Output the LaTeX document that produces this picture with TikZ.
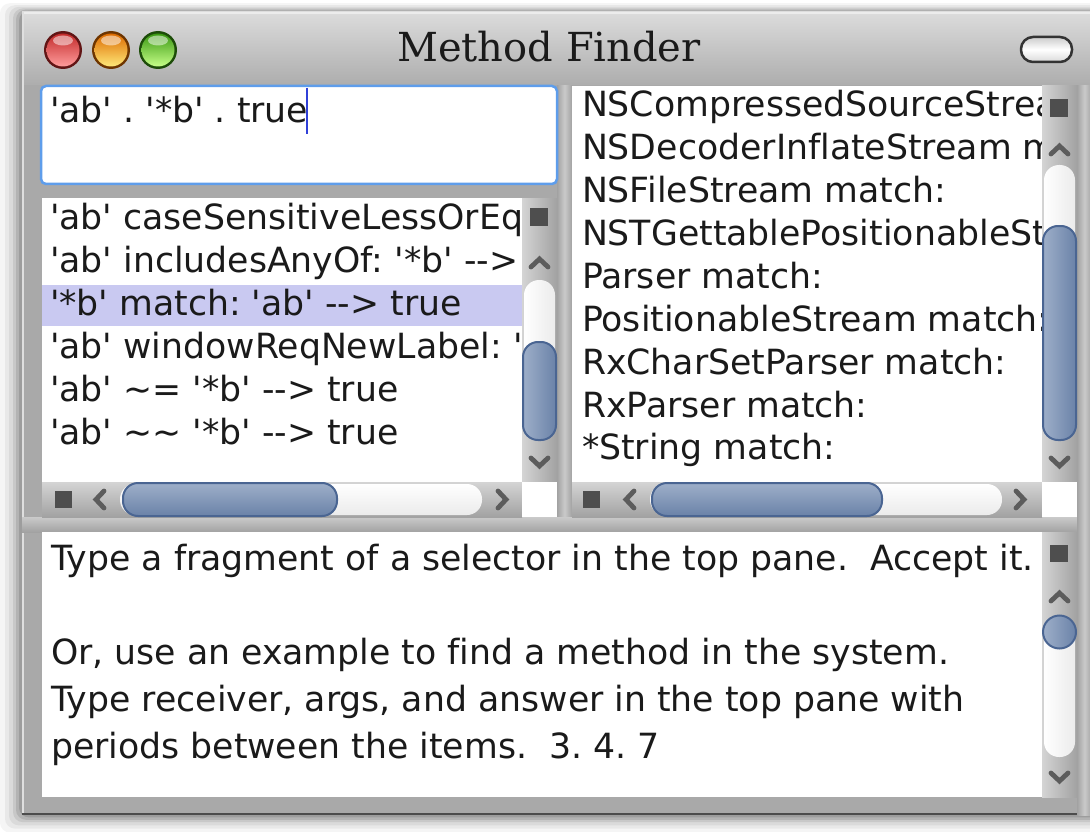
\documentclass[tikz,border=0pt]{standalone}
\usepackage{fontspec}
\setmainfont{DejaVu Sans}[Ligatures={TeXOff,CommonOff}]
\newfontfamily\titlefont{DejaVu Serif}[Ligatures={TeXOff,CommonOff}]
\definecolor{textc}{HTML}{1A1A1A}
\definecolor{framec}{HTML}{A9A9A9}
\definecolor{titleA}{HTML}{DCDCDC}
\definecolor{titleB}{HTML}{ADADAD}
\definecolor{sepA}{HTML}{CACACA}
\definecolor{sepB}{HTML}{A2A2A2}
\definecolor{arrowc}{HTML}{5C5C5C}
\definecolor{sqc}{HTML}{4E4E4E}
\definecolor{thumbA}{HTML}{9EAFC9}
\definecolor{thumbB}{HTML}{6A82A8}
\definecolor{thumbE}{HTML}{4A6592}
\definecolor{inputc}{HTML}{5E9DEB}
\definecolor{cursorc}{HTML}{3040D8}
\definecolor{hilite}{HTML}{C9C9F1}
\definecolor{sbA}{HTML}{D4D4D4}
\definecolor{sbB}{HTML}{A2A2A2}
\definecolor{trackc}{HTML}{EBEBEB}
\definecolor{redA}{HTML}{C22A2A}
\definecolor{redB}{HTML}{FF9C9C}
\definecolor{oraA}{HTML}{DC6A00}
\definecolor{oraB}{HTML}{FFE878}
\definecolor{grnA}{HTML}{3A9812}
\definecolor{grnB}{HTML}{C6FF88}
\definecolor{pillc}{HTML}{333333}
\begin{document}
\frenchspacing
\begin{tikzpicture}[x=1pt,y=-1pt,
  txt/.style={anchor=base west,inner sep=0pt,outer sep=0pt,text=textc,font=\fontsize{34.7}{40}\selectfont},
  chev/.style={draw=arrowc,line width=4.8pt,line cap=round,line join=miter},
  sqbox/.style={fill=sqc},
  vbar/.style={left color=sbA,right color=sbB},
  hbar/.style={top color=sbA,bottom color=sbB},
  vtrack/.style={left color=white,right color=trackc,rounded corners=15pt},
  htrack/.style={top color=white,bottom color=trackc,rounded corners=15pt},
  vthumb/.style={left color=thumbA,right color=thumbB,draw=thumbE,line width=2pt,rounded corners=15pt},
  hthumb/.style={top color=thumbA,bottom color=thumbB,draw=thumbE,line width=2pt,rounded corners=15pt},
  pane/.style={fill=white},
]
\useasboundingbox (0,0) rectangle (1090,832);
\fill[white] (0,0) rectangle (1090,832);
% shadow
\foreach \d/\o in {22/0.04,17/0.05,13/0.06,9/0.08,6/0.1,3/0.12}{
  \fill[black,opacity=\o,rounded corners=10pt] (22-\d,12-0.4*\d) rectangle (1120,815+0.8*\d);
}
% window frame
\fill[framec] (22,12) rectangle (1100,815);
\shade[top color=titleA,bottom color=titleB] (22,12) rectangle (1100,85);
\draw[white!85!gray,line width=1.5pt] (22,13) -- (1100,13);
\draw[white!75!gray,line width=1.5pt] (23,12) -- (23,815);
\draw[gray!140,line width=1.5pt] (22,814) -- (1100,814);
% separators
\shade[left color=sepB,right color=sepB,middle color=sepA] (557,86) rectangle (572,517);
\shade[top color=sepA,bottom color=sepB] (22,517) rectangle (1100,532);
\shade[left color=sepB,right color=sepB,middle color=sepA] (1077,86) rectangle (1092,815);

% traffic lights
\foreach \cx/\ca/\cb in {63/redA/redB,111/oraA/oraB,158/grnA/grnB}{
  \fill[\ca!50!black] (\cx,50) circle (19pt);
  \shade[top color=\ca,bottom color=\cb] (\cx,50) circle (16.5pt);
  \fill[white,opacity=0.5] (\cx,40.5) ellipse (10pt and 5pt);
}
% title
\node[font=\titlefont\fontsize{40}{40}\selectfont,text=textc,anchor=base,inner sep=0pt] (title) at (549,62) {Method Finder};
% collapse pill
\path[draw=pillc,line width=2.5pt,rounded corners=12pt,top color=gray!40,bottom color=gray!30,middle color=white] (1021,37) rectangle (1072,62);

% input pane
\draw[inputc,line width=2.5pt,fill=white,rounded corners=5pt] (41,86) rectangle (557,184);
\node[txt] (inp) at (50,123) {'ab' . '*b' . true};
\draw[cursorc,line width=2pt] (307,88) -- (307,134);

% left list pane
\fill[pane] (42,198) rectangle (522,482);
\begin{scope}
\clip (42,198) rectangle (522,482);
\fill[hilite] (42,285) rectangle (522,326);
\node[txt] (a1) at (50,229) {'ab' caseSensitiveLessOrEq};
\node[txt] (a2) at (50,272) {'ab' includesAnyOf: '*b' -->};
\node[txt] (a3) at (50,315) {'*b' match: 'ab' --> true};
\node[txt] (a4) at (50,358) {'ab' windowReqNewLabel: '};
\node[txt] (a5) at (50,401) {'ab' \textasciitilde= '*b' --> true};
\node[txt] (a6) at (50,444) {'ab' \textasciitilde\textasciitilde\ '*b' --> true};
\end{scope}
% left vertical scrollbar
\path[vbar] (522,198) rectangle (557,482);
\fill[sqbox] (530,208) rectangle (548,226);
\draw[chev] (531,267) -- (539.5,259) -- (548,267);
\path[vtrack] (524,280) rectangle (555,440);
\path[vthumb] (523,342) rectangle (556,440);
\draw[chev] (531,458) -- (539.5,466) -- (548,458);
% left horizontal scrollbar
\path[hbar] (42,482) rectangle (522,517);
\fill[sqbox] (55,491) rectangle (72,508);
\draw[chev] (104,491) -- (96,499.5) -- (104,508);
\path[htrack] (120,484) rectangle (482,515);
\path[hthumb] (123,483) rectangle (337,516);
\draw[chev] (498,491) -- (506,499.5) -- (498,508);
\fill[white] (522,482) rectangle (557,517);

% right list pane
\fill[pane] (572,86) rectangle (1042,482);
\begin{scope}
\clip (572,86) rectangle (1042,482);
\node[txt] (b1) at (582,117) {NSCompressedSourceStrea};
\node[txt] (b2) at (582,160) {NSDecoderInflateStream m};
\node[txt] (b3) at (582,203) {NSFileStream match:};
\node[txt] (b4) at (582,245) {NSTGettablePositionableSt};
\node[txt] (b5) at (582,288) {Parser match:};
\node[txt] (b6) at (582,331) {PositionableStream match:};
\node[txt] (b7) at (582,374) {RxCharSetParser match:};
\node[txt] (b8) at (582,417) {RxParser match:};
\node[txt] (b9) at (582,459) {*String match:};
\end{scope}
% right vertical scrollbar
\path[vbar] (1042,86) rectangle (1077,482);
\fill[sqbox] (1050,99) rectangle (1068,117);
\draw[chev] (1051,154) -- (1059.5,146) -- (1068,154);
\path[vtrack] (1044,165) rectangle (1075,440);
\path[vthumb] (1043,226) rectangle (1076,440);
\draw[chev] (1051,458) -- (1059.5,466) -- (1068,458);
% right horizontal scrollbar
\path[hbar] (572,482) rectangle (1042,517);
\fill[sqbox] (583,491) rectangle (600,508);
\draw[chev] (634,491) -- (626,499.5) -- (634,508);
\path[htrack] (650,484) rectangle (1002,515);
\path[hthumb] (652,483) rectangle (882,516);
\draw[chev] (1016,491) -- (1024,499.5) -- (1016,508);
\fill[white] (1042,482) rectangle (1077,517);

% bottom pane
\fill[pane] (42,532) rectangle (1042,797);
\node[txt] (c1) at (51,570) {Type a fragment of a selector in the top pane.\ \ Accept it.};
\node[txt] (c2) at (51,664) {Or, use an example to find a method in the system.};
\node[txt] (c3) at (51,711) {Type receiver, args, and answer in the top pane with};
\node[txt] (c4) at (51,758) {periods between the items.\ \ 3. 4. 7};
% bottom vertical scrollbar
\path[vbar] (1042,532) rectangle (1077,797);
\fill[sqbox] (1050,545) rectangle (1068,562);
\draw[chev] (1051,601) -- (1059.5,593) -- (1068,601);
\path[vtrack] (1044,615) rectangle (1075,757);
\path[left color=thumbA,right color=thumbB,draw=thumbE,line width=2pt] (1059.5,632) circle (16.5pt);
\draw[chev] (1051,773) -- (1059.5,781) -- (1068,773);
\end{tikzpicture}
\end{document}
